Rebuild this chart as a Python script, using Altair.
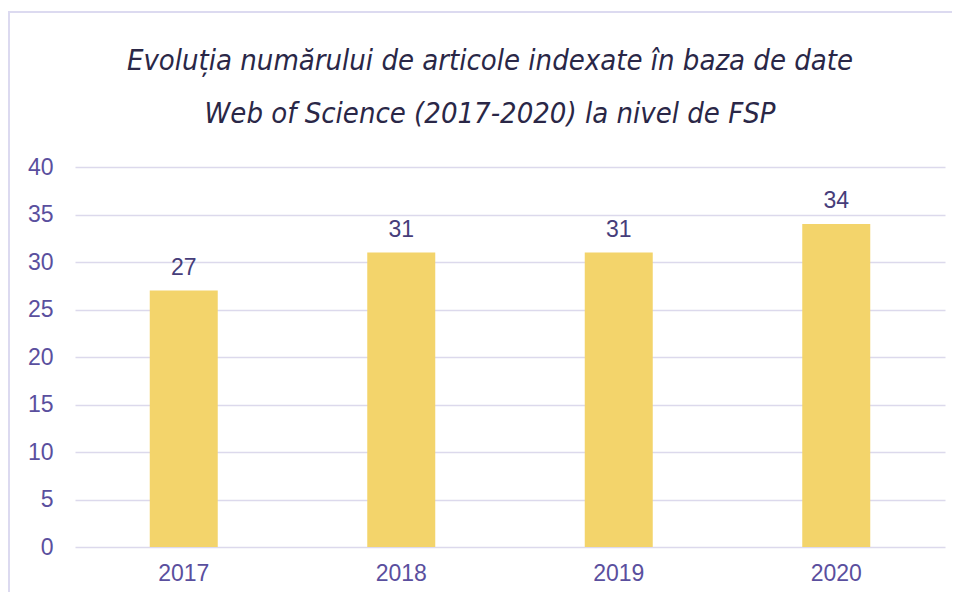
import altair as alt
import pandas as pd

years = ["2017", "2018", "2019", "2020"]
counts = [27, 31, 31, 34]
title_lines = ["Evoluția numărului de articole indexate în baza de date",
               "Web of Science (2017-2020) la nivel de FSP"]

df = pd.DataFrame({"year": years, "count": counts})

base = alt.Chart(df).encode(
    x=alt.X("year:N", sort=years,
            scale=alt.Scale(paddingInner=0, paddingOuter=0),
            axis=alt.Axis(title=None, labelAngle=0, domain=False, ticks=False,
                          labelPadding=15, labelFontSize=23, labelColor="#5a4f9e",
                          labelFont="Liberation Sans", grid=False)),
    y=alt.Y("count:Q", scale=alt.Scale(domain=[0, 40]),
            axis=alt.Axis(title=None, values=list(range(0, 41, 5)), domain=False, ticks=False,
                          labelPadding=22, labelFontSize=23, labelColor="#5a4f9e",
                          labelFont="Liberation Sans", gridColor="#dcd9ec", gridWidth=1.5)),
)

bars = base.mark_bar(color="#f3d46b", size=68)
labels = base.mark_text(dy=-16, baseline="alphabetic", fontSize=23, color="#463d7a",
                        font="Liberation Sans").encode(text="count:Q")

frame = alt.Chart(pd.DataFrame({"a": [0]})).mark_rect(
    fill=None, stroke="#dcdaf0", strokeWidth=2
).encode(x=alt.value(-66), x2=alt.value(1000), y=alt.value(-155), y2=alt.value(600))

title_font = "'DejaVu Sans Condensed', 'Liberation Sans', sans-serif"
title_layers = []
for line, ypos in zip(title_lines, [-97, -44]):
    title_layers.append(
        alt.Chart(pd.DataFrame({"line": [line]})).mark_text(
            font=title_font, fontStyle="italic", fontSize=29, color="#2a2747",
            align="center", baseline="alphabetic"
        ).encode(text="line:N", x=alt.value(415), y=alt.value(ypos))
    )

chart = alt.layer(frame, bars, labels, *title_layers).properties(
    width=870, height=380,
    autosize=alt.AutoSizeParams(type="none"),
    padding={"left": 67, "top": 159, "right": 7, "bottom": 45},
).configure_view(stroke=None)

chart.save("out.html", embed_options={"renderer": "svg", "actions": False})
